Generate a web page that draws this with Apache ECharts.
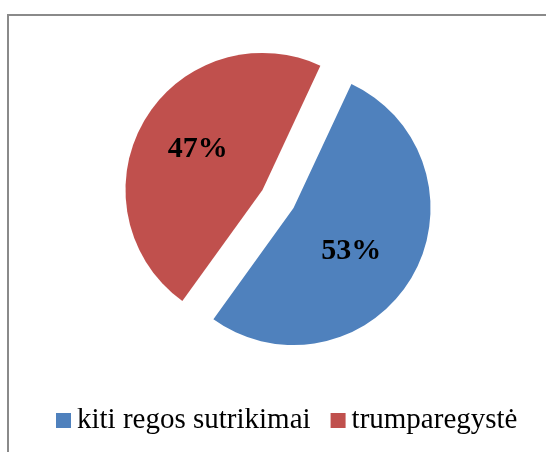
<!DOCTYPE html>
<html>
<head>
<meta charset="utf-8">
<style>
html,body{margin:0;padding:0;background:#fff;}
#c{width:546px;height:452px;}
</style>
<script src="https://cdn.jsdelivr.net/npm/echarts@6/dist/echarts.min.js"></script>
</head>
<body>
<div id="c"></div>
<script>
const categories = ["kiti regos sutrikimai", "trumparegystė"];
const values = [53, 47];
const colors = ["#4F81BD", "#C0504D"];

const chart = echarts.init(document.getElementById('c'), null, {renderer: 'canvas'});
const serif = 'Liberation Serif';
const option = {
  animation: false,
  backgroundColor: '#ffffff',
  textStyle: {fontFamily: serif},
  graphic: [
    {type: 'polyline', shape: {points: [[8, 460], [8, 15], [560, 15]]}, style: {stroke: '#8a8a8a', lineWidth: 2, fill: null}, silent: true}
  ],
  legend: {
    data: categories,
    left: 56,
    top: 406,
    padding: 0,
    icon: 'rect',
    itemWidth: 15,
    itemHeight: 15,
    itemGap: 20,
    selectedMode: false,
    formatter: '{t|{name}}',
    textStyle: {
      fontFamily: serif, fontSize: 29, color: '#000',
      rich: {t: {fontFamily: serif, fontSize: 29, color: '#000', lineHeight: 30, padding: [0, 0, 0, 1]}}
    }
  },
  series: [{
    type: 'pie',
    center: [278, 199],
    radius: 137,
    startAngle: 65,
    clockwise: true,
    selectedMode: 'multiple',
    selectedOffset: 18,
    avoidLabelOverlap: false,
    emphasis: {disabled: true},
    label: {
      show: true,
      position: 'inside',
      formatter: '{d}%',
      fontFamily: serif,
      fontWeight: 'bold',
      fontSize: 30,
      color: '#000'
    },
    labelLine: {show: false},
    labelLayout: function (p) {
      return p.dataIndex === 0 ? {dx: -4, dy: 7} : {dx: -3, dy: -4};
    },
    data: categories.map((n, i) => ({
      name: n,
      value: values[i],
      selected: true,
      itemStyle: {color: colors[i]},
      select: {itemStyle: {color: colors[i]}}
    }))
  }]
};
chart.setOption(option);
</script>
</body>
</html>
